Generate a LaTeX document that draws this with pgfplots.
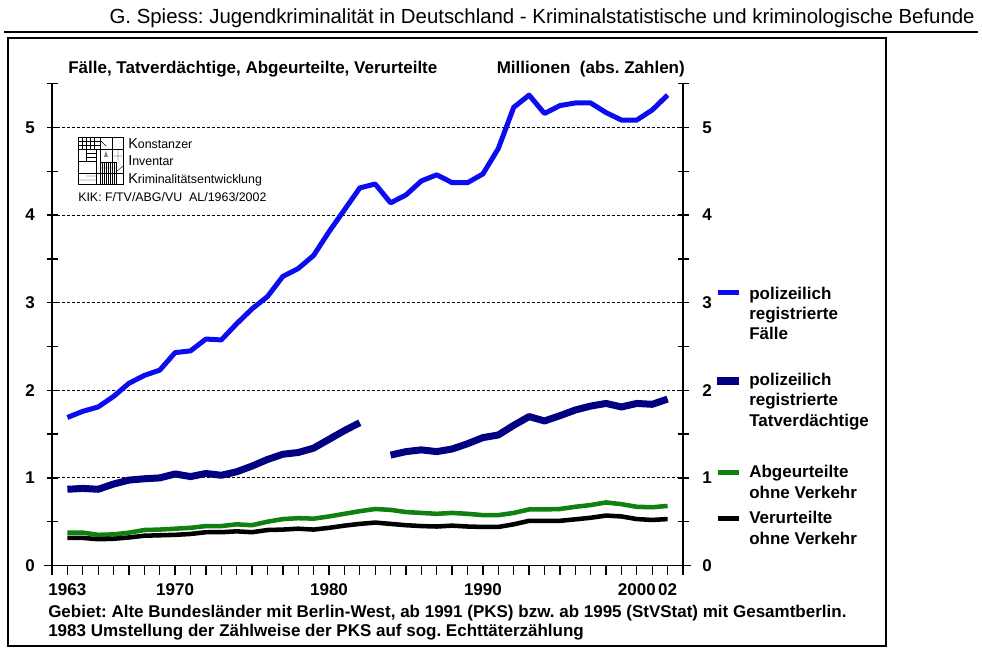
\documentclass[border=0pt]{standalone}
\usepackage{fontspec}
\setmainfont{Liberation Sans}
\usepackage{pgfplots}
\usepackage{pgfplotstable}
\pgfplotsset{compat=1.18}
\definecolor{cblue}{RGB}{12,12,240}
\definecolor{cnavy}{RGB}{0,0,128}
\definecolor{cgreen}{RGB}{16,128,16}

\pgfplotstableread{
year faelle tv abg ver
1963 1.69 0.87 0.375 0.315
1964 1.76 0.88 0.375 0.315
1965 1.81 0.87 0.350 0.300
1966 1.93 0.93 0.355 0.305
1967 2.08 0.975 0.375 0.320
1968 2.17 0.99 0.405 0.340
1969 2.23 1.00 0.410 0.345
1970 2.43 1.045 0.420 0.350
1971 2.45 1.015 0.430 0.360
1972 2.585 1.05 0.450 0.380
1973 2.575 1.03 0.450 0.380
1974 2.76 1.07 0.470 0.390
1975 2.93 1.135 0.460 0.380
1976 3.07 1.21 0.500 0.405
1977 3.30 1.27 0.530 0.410
1978 3.39 1.29 0.540 0.420
1979 3.54 1.34 0.535 0.410
1980 3.81 1.44 0.560 0.430
1981 4.06 1.54 0.590 0.455
1982 4.31 1.63 0.620 0.475
1983 4.355 nan 0.645 0.490
1984 4.14 1.26 0.635 0.475
1985 4.23 1.30 0.610 0.460
1986 4.39 1.32 0.600 0.450
1987 4.46 1.30 0.590 0.445
1988 4.37 1.33 0.600 0.455
1989 4.37 1.39 0.590 0.445
1990 4.47 1.46 0.575 0.440
1991 4.76 1.49 0.575 0.440
1992 5.23 1.60 0.600 0.470
1993 5.37 1.70 0.640 0.510
1994 5.16 1.65 0.640 0.510
1995 5.25 1.71 0.645 0.510
1996 5.28 1.775 0.670 0.527
1997 5.28 1.82 0.690 0.545
1998 5.17 1.85 0.720 0.570
1999 5.085 1.81 0.700 0.560
2000 5.085 1.85 0.670 0.530
2001 5.20 1.84 0.665 0.520
2002 5.37 1.90 0.680 0.530
}\datatable

\newcommand{\bfs}{\fontsize{12.75}{15}\selectfont\bfseries}
\frenchspacing

\begin{document}
\begin{tikzpicture}
\path[use as bounding box] (0,0) rectangle (736.5pt,-491.25pt);
\begin{axis}[
  at={(39pt,-424.125pt)}, anchor=south west,
  scale only axis, width=473.25pt, height=361.35pt,
  xmin=1962, xmax=2003, ymin=0, ymax=5.5,
  axis line style={draw=none},
  major tick length=0pt, minor tick length=0pt,
  xtick={1963,1970,1980,1990,2000,2002},
  xticklabels={1963,1970,1980,1990,2000,02},
  ytick={0,1,2,3,4,5},
  yticklabels={0,1,2,3,4,5},
  ymajorgrids,
  major grid style={black, line width=0.75pt, dash pattern=on 2.25pt off 1.5pt},
  ticklabel style={font=\bfs},
  xticklabel style={anchor=center, yshift=-18.4pt},
  yticklabel style={anchor=center, xshift=-16.5pt},
  clip=false,
  unbounded coords=jump,
]
\addplot[cblue, line width=3.75pt, line join=round] table[x=year,y=faelle] {\datatable};
\addplot[cnavy, line width=5.25pt, line join=round] table[x=year,y=tv] {\datatable};
\addplot[cgreen, line width=3.4pt, line join=round] table[x=year,y=abg] {\datatable};
\addplot[black, line width=3.4pt, line join=round] table[x=year,y=ver] {\datatable};
\end{axis}
\begin{axis}[
  at={(39pt,-424.125pt)}, anchor=south west,
  scale only axis, width=473.25pt, height=361.35pt,
  xmin=1962, xmax=2003, ymin=0, ymax=5.5,
  axis line style={draw=none},
  major tick length=0pt,
  xtick=\empty,
  ytick={0,1,2,3,4,5},
  yticklabels={0,1,2,3,4,5},
  yticklabel pos=right,
  ticklabel style={font=\bfs},
  yticklabel style={anchor=center, xshift=18pt},
]
\end{axis}
\begin{scope}[x=0.75pt,y=-0.75pt]
% header
\node[anchor=base east, inner sep=0, font=\fontsize{15.3}{18}\selectfont] at (975,24) {G. Spiess: Jugendkriminalität in Deutschland - Kriminalstatistische und kriminologische Befunde};
\draw[line width=0.9pt] (4,32)--(978,32);
\draw[line width=0.9pt] (8,38) rectangle (886,646);
% axis lines and ticks
\draw[line width=1pt] (52,83.7)--(52,565.5);
\draw[line width=1pt] (683,83.7)--(683,565.5);
\draw[line width=1pt] (44,565.5)--(691,565.5);
\foreach \v in {0,0.5,...,5.5} {
  \draw[line width=1pt] (47,{565.5-87.6*\v})--(58,{565.5-87.6*\v});
  \draw[line width=1pt] (678,{565.5-87.6*\v})--(689,{565.5-87.6*\v});
}
\foreach \i in {0,...,41} {\draw[line width=1pt] ({52+15.39*\i},565.5)--({52+15.39*\i},575);}
% titles
\node[anchor=base west, inner sep=0, font=\bfs] at (68,74) {Fälle, Tatverdächtige, Abgeurteilte, Verurteilte};
\node[anchor=base east, inner sep=0, font=\bfs] at (685,74) {Millionen\ \ (abs. Zahlen)};
% bottom notes
\node[anchor=base west, inner sep=0, font=\bfs] at (48,618) {Gebiet: Alte Bundesländer mit Berlin-West, ab 1991 (PKS) bzw. ab 1995 (StVStat) mit Gesamtberlin.};
\node[anchor=base west, inner sep=0, font=\bfs] at (48,637) {1983 Umstellung der Zählweise der PKS auf sog. Echttäterzählung};
% legend
\draw[cblue, line width=3.75pt] (718,293)--(739,293);
\draw[cnavy, line width=5.5pt] (717,381)--(739,381);
\draw[cgreen, line width=3.75pt] (718,473)--(739,473);
\draw[black, line width=3.75pt] (718,519)--(739,519);
\node[anchor=base west, inner sep=0, font=\bfs] at (749,300) {polizeilich};
\node[anchor=base west, inner sep=0, font=\bfs] at (749,320) {registrierte};
\node[anchor=base west, inner sep=0, font=\bfs] at (749,340) {Fälle};
\node[anchor=base west, inner sep=0, font=\bfs] at (749,386) {polizeilich};
\node[anchor=base west, inner sep=0, font=\bfs] at (749,406) {registrierte};
\node[anchor=base west, inner sep=0, font=\bfs] at (749,427) {Tatverdächtige};
\node[anchor=base west, inner sep=0, font=\bfs] at (749,478) {Abgeurteilte};
\node[anchor=base west, inner sep=0, font=\bfs] at (749,499) {ohne Verkehr};
\node[anchor=base west, inner sep=0, font=\bfs] at (749,524) {Verurteilte};
\node[anchor=base west, inner sep=0, font=\bfs] at (749,545) {ohne Verkehr};
% logo
\draw[line width=0.6pt] (78,137) rectangle (123,184);
\draw[line width=0.4pt] (78,149)--(123,149) (78,161)--(96,161) (78,173)--(123,173)
  (100,137)--(100,184) (112,137)--(112,184) (96,149)--(96,184);
\draw[line width=0.3pt] (82,137)--(82,149) (86,137)--(86,149) (90,137)--(90,149) (94,137)--(94,149)
  (78,141)--(100,141) (78,145)--(100,145) (86,153)--(96,153) (86,157)--(96,157) (86,149)--(86,161);
\draw[line width=0.3pt] (100,140)--(106,146) (112,156)--(123,156) (118,149)--(118,161);
\fill[gray] (104,157)--(106,151)--(108,157)--cycle;
\draw[line width=0.3pt] (100,162) rectangle (116,184);
\foreach \k in {102,104,...,114} {\draw[line width=0.3pt] (\k,162)--(\k,184);}
\draw[line width=0.3pt] (100,168)--(116,168) (116,172)--(123,166) (86,176)--(96,176) (78,180)--(96,180);
\node[anchor=base west, inner sep=0, font=\fontsize{9.3}{10}\selectfont] at (128,149) {{\fontsize{10.8}{11}\selectfont K}onstanzer};
\node[anchor=base west, inner sep=0, font=\fontsize{9.3}{10}\selectfont] at (128,166) {{\fontsize{10.8}{11}\selectfont I}nventar};
\node[anchor=base west, inner sep=0, font=\fontsize{9.3}{10}\selectfont] at (128,184) {{\fontsize{10.8}{11}\selectfont K}riminalitätsentwicklung};
\node[anchor=base west, inner sep=0, font=\fontsize{9.3}{10}\selectfont] at (78,202) {KIK: F/TV/ABG/VU\ \ AL/1963/2002};
\end{scope}
\end{tikzpicture}
\end{document}
